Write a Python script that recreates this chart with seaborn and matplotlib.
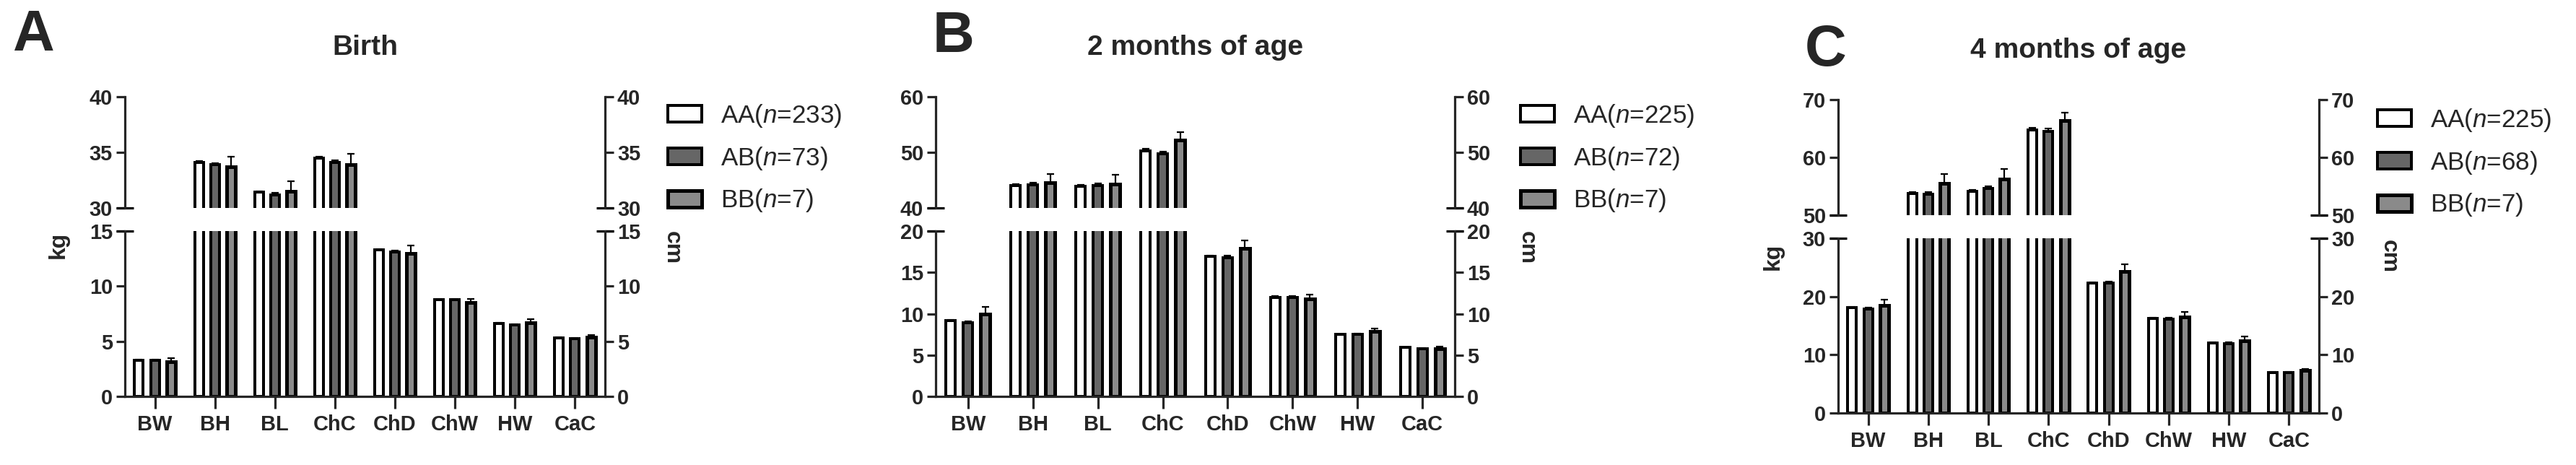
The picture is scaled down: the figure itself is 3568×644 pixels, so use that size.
import numpy as np
import pandas as pd
import matplotlib
matplotlib.use('Agg')
import matplotlib.pyplot as plt
import seaborn as sns
from matplotlib.patches import Patch

sns.set_style('ticks')
plt.rcParams['font.family'] = ['Liberation Sans', 'DejaVu Sans']
plt.rcParams['font.weight'] = 'bold'
plt.rcParams['mathtext.fontset'] = 'custom'
plt.rcParams['mathtext.it'] = 'Liberation Sans:italic:weight=normal'
plt.rcParams['mathtext.rm'] = 'Liberation Sans:weight=normal'

traits = ['BW', 'BH', 'BL', 'ChC', 'ChD', 'ChW', 'HW', 'CaC']
genos = ['AA', 'AB', 'BB']

# Birth
birth_aa = [3.27, 34.1, 31.4, 34.5, 13.3, 8.75, 6.6, 5.3]
birth_ab = [3.27, 33.9, 31.2, 34.1, 13.1, 8.75, 6.5, 5.25]
birth_bb = [3.16, 33.7, 31.5, 33.9, 12.95, 8.5, 6.65, 5.35]
birth_aa_err = [0.05, 0.1, 0.1, 0.1, 0.08, 0.08, 0.05, 0.05]
birth_ab_err = [0.08, 0.15, 0.15, 0.2, 0.1, 0.1, 0.08, 0.08]
birth_bb_err = [0.3, 0.9, 0.9, 0.95, 0.75, 0.35, 0.35, 0.25]

# 2 months
m2_aa = [9.2, 44.0, 43.9, 50.3, 16.9, 12.0, 7.5, 5.9]
m2_ab = [8.9, 44.1, 44.0, 49.7, 16.75, 11.95, 7.5, 5.8]
m2_bb = [10.0, 44.5, 44.3, 52.2, 17.9, 11.8, 7.9, 5.8]
m2_aa_err = [0.1, 0.3, 0.3, 0.3, 0.15, 0.1, 0.05, 0.05]
m2_ab_err = [0.15, 0.4, 0.4, 0.4, 0.25, 0.15, 0.1, 0.08]
m2_bb_err = [0.8, 1.6, 1.7, 1.5, 1.0, 0.5, 0.35, 0.2]

# 4 months
m4_aa = [18.1, 53.7, 54.1, 64.8, 22.3, 16.25, 12.0, 7.0]
m4_ab = [17.9, 53.6, 54.6, 64.5, 22.3, 16.15, 11.95, 7.0]
m4_bb = [18.5, 55.5, 56.3, 66.4, 24.25, 16.5, 12.45, 7.3]
m4_aa_err = [0.15, 0.3, 0.3, 0.3, 0.2, 0.15, 0.1, 0.05]
m4_ab_err = [0.25, 0.45, 0.45, 0.5, 0.3, 0.2, 0.15, 0.1]
m4_bb_err = [1.0, 1.6, 1.7, 1.4, 1.25, 0.9, 0.75, 0.3]

birth_n = ['AA($\\mathit{n}$=233)', 'AB($\\mathit{n}$=73)', 'BB($\\mathit{n}$=7)']
m2_n = ['AA($\\mathit{n}$=225)', 'AB($\\mathit{n}$=72)', 'BB($\\mathit{n}$=7)']
m4_n = ['AA($\\mathit{n}$=225)', 'AB($\\mathit{n}$=68)', 'BB($\\mathit{n}$=7)']

PAL = {'AA': 'white', 'AB': '#666666', 'BB': '#8a8a8a'}
PX = 1 / 1.389  # px -> pt at dpi 100
W, H = 3568, 644


def make_df(aa, ab, bb):
    rows = []
    for g, vals in zip(genos, [aa, ab, bb]):
        for t, v in zip(traits, vals):
            rows.append({'trait': t, 'geno': g, 'mean': v})
    return pd.DataFrame(rows)


def fr(x0, y0, x1, y1):
    # pixel box -> figure fraction [left, bottom, width, height]
    return [x0 / W, 1 - y1 / H, (x1 - x0) / W, (y1 - y0) / H]


fig = plt.figure(figsize=(W / 100, H / 100), dpi=100)

panels = [
    dict(letter='A', title='Birth', vals=(birth_aa, birth_ab, birth_bb),
         errs=(birth_aa_err, birth_ab_err, birth_bb_err), labels=birth_n,
         x0=173, x1=838, up=(134, 288), low=(320, 549),
         ulim=(30, 40), uticks=[30, 35, 40], llim=(0, 15), lticks=[0, 5, 10, 15],
         letter_xy=(47, 50), title_y=66, kg=(81, 339), cm=(931, 343),
         leg=(925, 142)),
    dict(letter='B', title='2 months of age', vals=(m2_aa, m2_ab, m2_bb),
         errs=(m2_aa_err, m2_ab_err, m2_bb_err), labels=m2_n,
         x0=1296, x1=2015, up=(134, 288), low=(320, 549),
         ulim=(40, 60), uticks=[40, 50, 60], llim=(0, 20), lticks=[0, 5, 10, 15, 20],
         letter_xy=(1321, 52), title_y=66, kg=None, cm=(2115, 343),
         leg=(2106, 142)),
    dict(letter='C', title='4 months of age', vals=(m4_aa, m4_ab, m4_bb),
         errs=(m4_aa_err, m4_ab_err, m4_bb_err), labels=m4_n,
         x0=2546, x1=3212, up=(138, 298), low=(330, 572),
         ulim=(50, 70), uticks=[50, 60, 70], llim=(0, 30), lticks=[0, 10, 20, 30],
         letter_xy=(2529, 70), title_y=70, kg=(2456, 355), cm=(3309, 355),
         leg=(3293, 148)),
]

for p in panels:
    df = make_df(*p['vals'])
    ax_up = fig.add_axes(fr(p['x0'], p['up'][0], p['x1'], p['up'][1]))
    ax_lo = fig.add_axes(fr(p['x0'], p['low'][0], p['x1'], p['low'][1]))
    for ax, lim, ticks in [(ax_up, p['ulim'], p['uticks']), (ax_lo, p['llim'], p['lticks'])]:
        sns.barplot(data=df, x='trait', y='mean', hue='geno', hue_order=genos,
                    palette=PAL, saturation=1, gap=0.46, errorbar=None,
                    edgecolor='black', linewidth=4 * PX, ax=ax, legend=False)
        bar_conts = list(ax.containers)
        for ci, cont in enumerate(bar_conts):
            errs = p['errs'][ci]
            for j, bar in enumerate(cont):
                if ci == 2:
                    bar.set_linewidth(5 * PX)
                xc = bar.get_x() + bar.get_width() / 2
                ax.errorbar(xc, bar.get_height(), yerr=[[0], [errs[j]]], fmt='none',
                            ecolor='black', elinewidth=2.2 * PX, capsize=3.5,
                            capthick=2.2 * PX)
        ax.set_ylim(*lim)
        ax.set_yticks(ticks)
        ax.set_xlim(-0.5, 7.5)
        ax.set_xlabel('')
        ax.set_ylabel('')
        ax.set_facecolor('none')
        ax.spines['top'].set_visible(False)
        for s in ['left', 'right', 'bottom']:
            ax.spines[s].set_linewidth(3.2 * PX)
        ax.tick_params(axis='y', which='major', left=True, right=True,
                       labelleft=True, labelright=True, direction='out',
                       length=12 * PX, width=3.2 * PX, labelsize=29 * PX, pad=5 * PX)
        for t in ax.get_yticklabels():
            t.set_fontweight('bold')

    ax_up.spines['bottom'].set_visible(False)
    ax_up.tick_params(axis='x', bottom=False, labelbottom=False)
    ax_lo.tick_params(axis='x', direction='out', length=17 * PX, width=3.2 * PX,
                      labelsize=29 * PX, pad=8 * PX)
    for t in ax_lo.get_xticklabels():
        t.set_fontweight('bold')

    # break caps on both sides of the broken axes
    for ax, yy in [(ax_up, 0), (ax_lo, 1)]:
        wpx = p['x1'] - p['x0']
        for xx in (0, 1):
            ax.plot([xx - 12 / wpx, xx + 12 / wpx], [yy, yy], transform=ax.transAxes,
                    color='black', lw=3.2 * PX, clip_on=False, solid_capstyle='butt')

    xc = (p['x0'] + p['x1']) / 2 / W
    fig.text(xc, 1 - p['title_y'] / H, p['title'], ha='center', va='center',
             fontsize=39 * PX, fontweight='bold')
    fig.text(p['letter_xy'][0] / W, 1 - p['letter_xy'][1] / H, p['letter'],
             ha='center', va='center', fontsize=80 * PX, fontweight='heavy')
    if p['kg'] is not None:
        fig.text(p['kg'][0] / W, 1 - p['kg'][1] / H, 'kg', rotation=90,
                 ha='center', va='center', fontsize=32 * PX, fontweight='bold')
    fig.text(p['cm'][0] / W, 1 - p['cm'][1] / H, 'cm', rotation=-90,
             ha='center', va='center', fontsize=32 * PX, fontweight='bold')

    handles = [Patch(facecolor=PAL[g], edgecolor='black',
                     linewidth=(5 if g == 'BB' else 4) * PX) for g in genos]
    fig.legend(handles, p['labels'], loc='upper left',
               bbox_to_anchor=(p['leg'][0] / W, 1 - p['leg'][1] / H),
               frameon=False, prop={'size': 35 * PX, 'weight': 'normal'},
               handlelength=1.35, handleheight=0.63, handletextpad=0.75,
               labelspacing=0.62, borderpad=0, borderaxespad=0)

fig.savefig('out.png', dpi=100, facecolor='white')
